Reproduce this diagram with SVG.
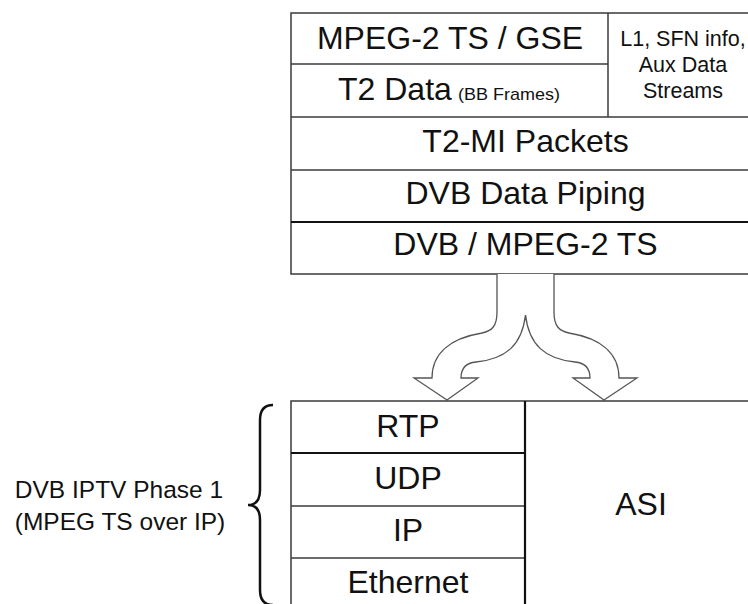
<svg xmlns="http://www.w3.org/2000/svg" width="748" height="604" viewBox="0 0 748 604">
<style>
.box{fill:#fff;stroke:#3a3a3a;stroke-width:1.5}
.ln{stroke:#3a3a3a;stroke-width:1.5;fill:none}
.thk{stroke:#111;stroke-width:2.2;fill:none}
.t{font-family:"Liberation Sans",Arial,sans-serif;font-size:32px;fill:#111;text-anchor:middle}
.s{font-family:"Liberation Sans",Arial,sans-serif;font-size:21.5px;fill:#111;text-anchor:middle}
.l{font-family:"Liberation Sans",Arial,sans-serif;font-size:24.5px;fill:#111;text-anchor:middle}
.arrow{fill:#fff;stroke:#555;stroke-width:1.3;stroke-linejoin:miter}
.brace{fill:none;stroke:#111;stroke-width:2.5}
</style>
<rect width="748" height="604" fill="#fff"/>
<g id="top-stack">
<rect class="box" x="291" y="13" width="470" height="261"/>
<line class="ln" x1="291" y1="64" x2="608" y2="64"/>
<line class="ln" x1="608" y1="13" x2="608" y2="117"/>
<line class="ln" x1="291" y1="117" x2="761" y2="117"/>
<line class="ln" x1="291" y1="170" x2="761" y2="170"/>
<line class="thk" x1="291" y1="222" x2="761" y2="222"/>
</g>
<g id="mpeg2-ts-gse"><text class="t" x="450" y="49">MPEG-2 TS / GSE</text></g>
<g id="t2-data"><text class="t" x="338" y="99.5" style="text-anchor:start">T2 Data</text><text x="458" y="99.5" font-family="Liberation Sans, Arial, sans-serif" font-size="17" fill="#111" textLength="102" lengthAdjust="spacingAndGlyphs">(BB Frames)</text></g>
<g id="l1-sfn"><text class="s" x="683" y="46">L1, SFN info,</text><text class="s" x="683" y="72">Aux Data</text><text class="s" x="683" y="97.5">Streams</text></g>
<g id="t2-mi"><text class="t" x="525.5" y="152">T2-MI Packets</text></g>
<g id="dvb-data-piping"><text class="t" x="525.5" y="204">DVB Data Piping</text></g>
<g id="dvb-mpeg2-ts"><text class="t" x="525.5" y="255">DVB / MPEG-2 TS</text></g>
<g id="connectors">
<path class="arrow" d="M497,274 V312 C497,326 492,331 482,333 C452,338 432,352 432,378 H414 L447,400 L478,378 H461 C461,369 465,363 476,362 C506,359 522,345 525.5,315 C529,345 545,359 575,362 C586,363 590,369 590,378 H573 L604,400 L637,378 H619 C619,352 599,338 569,333 C559,331 554,326 554,312 V274"/>
</g>
<g id="bottom-stack">
<rect class="box" x="291" y="401" width="470" height="220"/>
<line class="thk" x1="291" y1="453" x2="525" y2="453"/>
<line class="ln" x1="291" y1="506" x2="525" y2="506"/>
<line class="ln" x1="291" y1="558" x2="525" y2="558"/>
<line class="thk" x1="525" y1="401" x2="525" y2="610"/>
</g>
<g id="rtp"><text class="t" x="408" y="437">RTP</text></g>
<g id="udp"><text class="t" x="408" y="489">UDP</text></g>
<g id="ip"><text class="t" x="408" y="541">IP</text></g>
<g id="ethernet"><text class="t" x="408" y="593">Ethernet</text></g>
<g id="asi"><text class="t" x="641" y="515">ASI</text></g>
<g id="iptv-label">
<path class="brace" d="M273,405 Q260,405 260,420 V490 Q260,505 248,505 Q260,505 260,520 V590 Q260,605 273,605"/>
<text class="l" x="119" y="498">DVB IPTV Phase 1</text>
<text class="l" x="120" y="530">(MPEG TS over IP)</text>
</g>
</svg>
